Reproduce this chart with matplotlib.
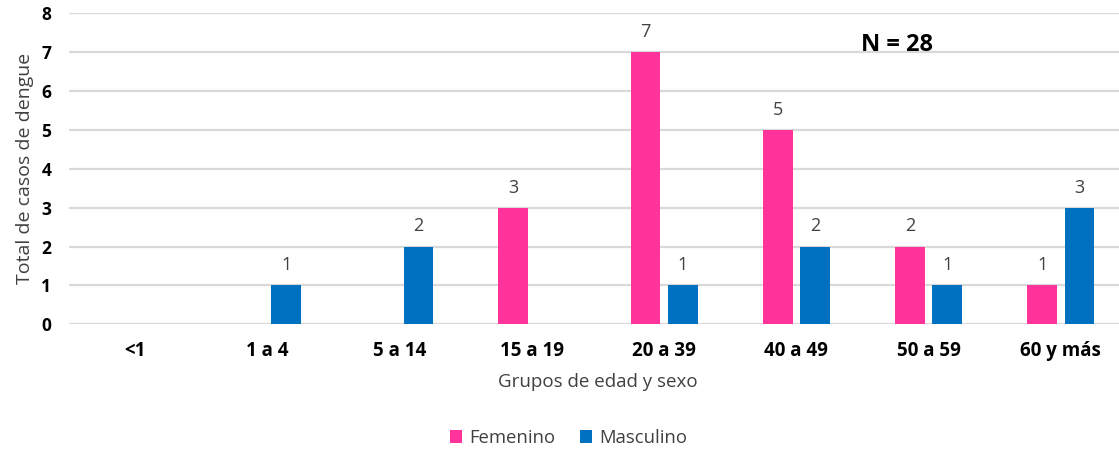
import matplotlib.pyplot as plt
import numpy as np

plt.rcParams['font.family'] = ['Open Sans', 'DejaVu Sans']

# data
grupos = ['<1', '1 a 4', '5 a 14', '15 a 19', '20 a 39', '40 a 49', '50 a 59', '60 y más']
femenino = [0, 0, 0, 3, 7, 5, 2, 1]
masculino = [0, 1, 2, 0, 1, 2, 1, 3]
y_ticks = [0, 1, 2, 3, 4, 5, 6, 7, 8]

pink = '#FF3399'
blue = '#0070C0'
grid_color = '#D9D9D9'
text_color = '#404040'

fig = plt.figure(figsize=(11.19, 4.53), dpi=100)
ax = fig.add_axes([0.0619, 0.2841, 0.9452, 0.6865])

x = np.arange(len(grupos))
width = 0.225
offset = 0.1415

bars_f = ax.bar(x - offset, femenino, width, color=pink, label='Femenino', zorder=3)
bars_m = ax.bar(x + offset, masculino, width, color=blue, label='Masculino', zorder=3)

# value labels, only for non-zero bars
for bars, vals in [(bars_f, femenino), (bars_m, masculino)]:
    for b, v in zip(bars, vals):
        if v > 0:
            ax.annotate(str(v), xy=(b.get_x() + b.get_width() / 2, v), xytext=(0, 8),
                        textcoords='offset points', ha='center', va='bottom',
                        fontsize=13, color=text_color)

ax.set_xlim(-0.5, len(grupos) - 0.5)
ax.set_ylim(0, 8)
ax.set_yticks(y_ticks)
ax.set_xticks(x)
ax.set_xticklabels(grupos, fontweight='bold', fontsize=13.5)
ax.set_yticklabels([str(t) for t in y_ticks], fontweight='bold', fontsize=12.5)
ax.tick_params(axis='x', length=0, pad=12)
ax.tick_params(axis='y', length=0, pad=13)

ax.yaxis.grid(True, color=grid_color, linewidth=1.6, zorder=0)
ax.set_axisbelow(True)
for s in ax.spines.values():
    s.set_visible(False)

ax.set_xlabel('Grupos de edad y sexo', fontsize=13.5, color=text_color, labelpad=9)
ax.set_ylabel('Total de casos de dengue', fontsize=14, color=text_color, labelpad=5)

ax.text(5.76, 7.18, 'N = 28', fontsize=17, fontweight='bold', ha='center', va='center')

fig.legend(handles=[bars_f, bars_m], labels=['Femenino', 'Masculino'],
           loc='center', bbox_to_anchor=(0.508, 1 - 438 / 453), ncol=2, frameon=False,
           fontsize=13.3, handlelength=0.65, handleheight=0.65, handletextpad=0.4,
           columnspacing=1.3, labelcolor=text_color)

plt.savefig('out.png')
